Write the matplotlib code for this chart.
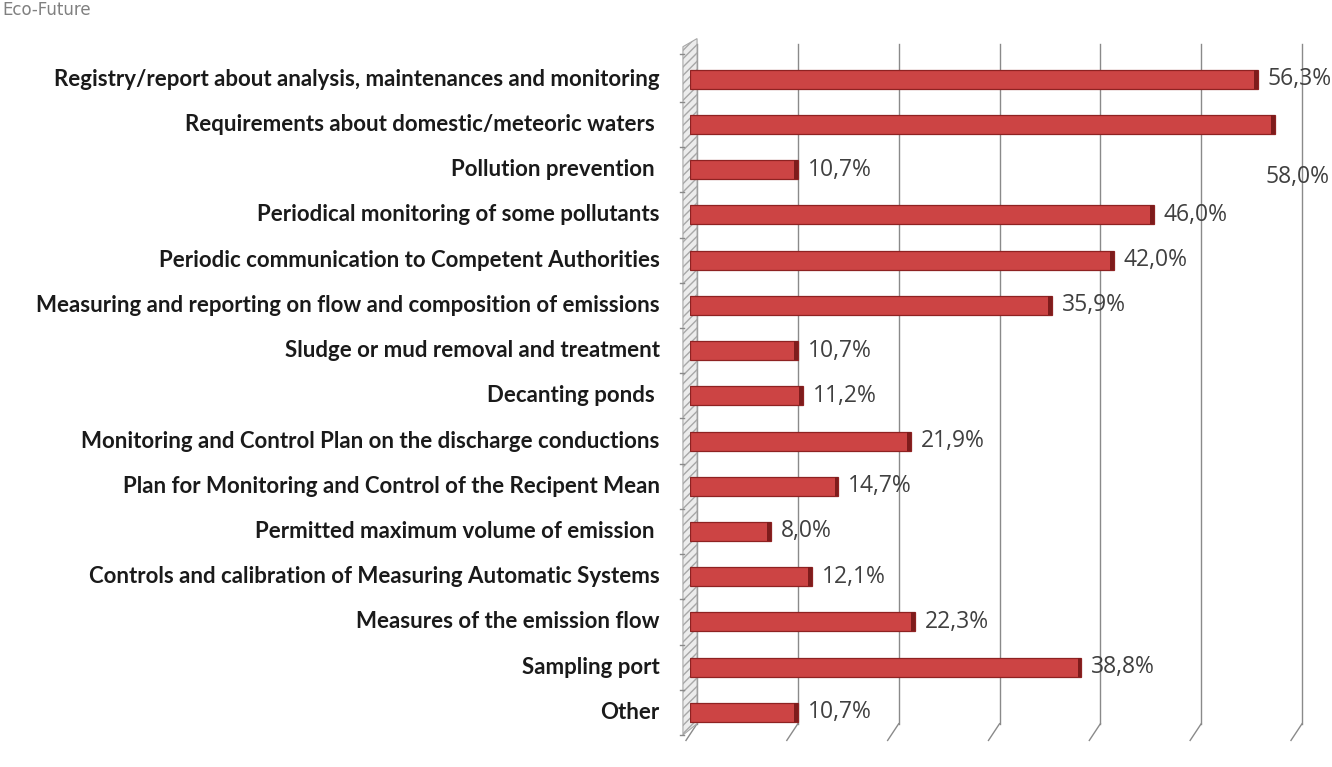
import matplotlib
matplotlib.use('Agg')
import matplotlib.pyplot as plt
from matplotlib.patches import Polygon

categories = [
    'Registry/report about analysis, maintenances and monitoring',
    'Requirements about domestic/meteoric waters ',
    'Pollution prevention ',
    'Periodical monitoring of some pollutants',
    'Periodic communication to Competent Authorities',
    'Measuring and reporting on flow and composition of emissions',
    'Sludge or mud removal and treatment',
    'Decanting ponds ',
    'Monitoring and Control Plan on the discharge conductions',
    'Plan for Monitoring and Control of the Recipent Mean',
    'Permitted maximum volume of emission ',
    'Controls and calibration of Measuring Automatic Systems',
    'Measures of the emission flow',
    'Sampling port',
    'Other',
]
values = [56.3, 58.0, 10.7, 46.0, 42.0, 35.9, 10.7, 11.2, 21.9, 14.7, 8.0, 12.1, 22.3, 38.8, 10.7]
grid_ticks = [0, 10, 20, 30, 40, 50, 60]

W, H = 1332, 767
fig = plt.figure(figsize=(W / 100, H / 100), dpi=100)
fig.patch.set_facecolor('white')

# axes placed in pixel terms: front zero at x=690, 60 at ~1295
left, right = 690 / W, 1295 / W
bottom, top = 1 - 735 / H, 1 - 44 / H
ax = fig.add_axes([left, bottom, right - left, top - bottom])
ax.set_xlim(0, 60)
ax.set_ylim(len(categories) - 0.5, -0.78)
for s in ax.spines.values():
    s.set_visible(False)
ax.set_xticks([])
ax.set_yticks([])

ypos = list(range(len(categories)))
off = 0.7  # back wall shift (3D look)

# back wall gridlines with slanted feet
for g in grid_ticks:
    ax.plot([g + off, g + off], [-0.78, 14.25], color='#8a8a8a', lw=1.0, zorder=1, clip_on=False)
    ax.plot([g + off, g - 0.4], [14.25, 14.62], color='#8a8a8a', lw=1.0, zorder=1, clip_on=False)

# left wall strip
wall = Polygon([(-0.7, -0.72), (off, -0.9), (off, 14.25), (-0.7, 14.5)],
               closed=True, facecolor='#ececec', edgecolor='#a8a8a8', hatch='////',
               lw=0.8, zorder=1, clip_on=False)
ax.add_patch(wall)
for i in range(len(categories) + 1):
    yb = i - 0.5 if i > 0 else -0.55
    ax.plot([-0.95, -0.55], [yb, yb], color='#8a8a8a', lw=1.0, clip_on=False, zorder=2)

# bars
ax.barh(ypos, values, height=0.42, color='#cc4444', edgecolor='#8e2222', lw=0.9, zorder=3)
for y, v in zip(ypos, values):
    ax.barh(y, 0.35, left=v - 0.35, height=0.42, color='#7e1c1c', lw=0, zorder=4)

# value labels
for y, v in zip(ypos, values):
    txt = ('%.1f%%' % v).replace('.', ',')
    if v == max(values):
        # no room at the right edge: label sits under the bar end
        ax.text(63.4, y + 1.15, txt, ha='right', va='center', fontsize=16.5,
                color='#404040', family='Open Sans', clip_on=False, zorder=5)
    else:
        ax.text(v + 1.0, y, txt, ha='left', va='center', fontsize=16.5,
                color='#404040', family='Open Sans', clip_on=False, zorder=5)

# category labels
for y, c in zip(ypos, categories):
    ax.text(-3.0, y, c, ha='right', va='center', fontsize=16, fontweight='bold',
            color='#1a1a1a', family='Lato', clip_on=False)

# watermark text at top-left
fig.text(0.002, 0.999, 'Eco-Future', ha='left', va='top', fontsize=12, color='#808080')

fig.savefig('out.png', dpi=100)
